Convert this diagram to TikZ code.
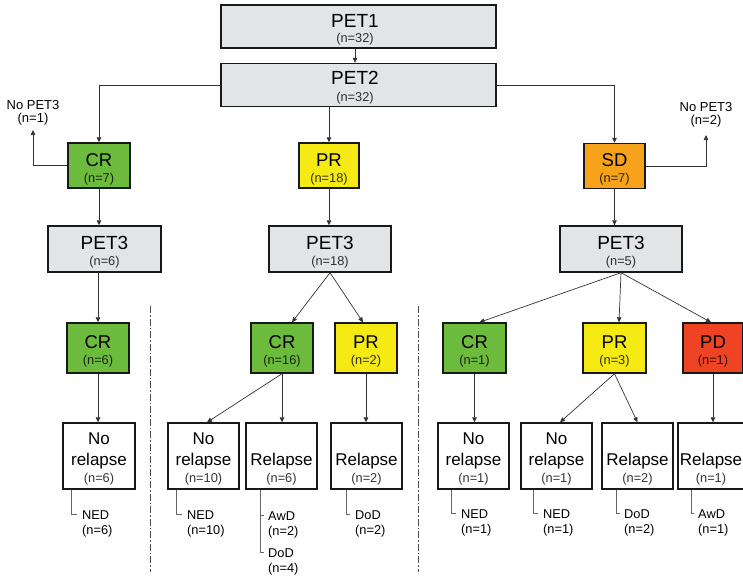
\documentclass[tikz,border=0pt]{standalone}
\usepackage{fontspec}
\setmainfont{Liberation Sans}
\usetikzlibrary{arrows.meta,calc}
\definecolor{boxgray}{HTML}{E3E4E5}
\definecolor{crgreen}{HTML}{6CBB3C}
\definecolor{pryellow}{HTML}{F5EA14}
\definecolor{sdorange}{HTML}{F7A21B}
\definecolor{pdred}{HTML}{EE4423}
\definecolor{linec}{HTML}{333333}
\begin{document}
\begin{tikzpicture}[x=1pt,y=-1pt,
  box/.style={draw=black!90, line width=1.4pt, inner sep=0pt},
  petbox/.style={box, fill=boxgray, minimum width=275pt, minimum height=43pt},
  pettri/.style={box, fill=boxgray, minimum width=#1, minimum height=46pt},
  colbox/.style={box, fill=#1},
  outbox/.style={box, fill=white, minimum height=66pt},
  arr/.style={draw=linec, line width=0.7pt, -{Triangle[length=5pt,width=4.5pt]}},
  sub/.style={draw=black!60, line width=0.7pt},
  dd/.style={draw=black!70, line width=0.8pt, dash pattern=on 7pt off 2pt on 1.5pt off 2pt},
  tbig/.style={anchor=base, inner sep=0pt, font=\fontsize{19}{19}\selectfont},
  tcr/.style={anchor=base, inner sep=0pt, font=\fontsize{18.5}{18.5}\selectfont},
  tnr/.style={anchor=base, inner sep=0pt, font=\fontsize{17}{17}\selectfont},
  tn/.style={anchor=base, inner sep=0pt, font=\fontsize{12.8}{12.8}\selectfont, text=black, text opacity=0.8},
  tno/.style={anchor=base, inner sep=0pt, font=\fontsize{13}{13}\selectfont},
  lab/.style={anchor=base west, inner sep=0pt, font=\fontsize{12.8}{12.8}\selectfont},
]
\useasboundingbox (0,0) rectangle (743,576);

% ---------- top ----------
\node[petbox] (pet1) at (358.5,26.5) {};
\node[tbig] (pet1a) at ($(pet1.north)+(-3.5,23)$) {PET1};
\node[tn] (pet1b) at ($(pet1.north)+(-3.5,38)$) {(n=32)};
\node[petbox] (pet2) at (358.5,85) {};
\node[tbig] (pet2a) at ($(pet2.north)+(-3.5,22)$) {PET2};
\node[tn] (pet2b) at ($(pet2.north)+(-3.5,39)$) {(n=32)};
\draw[arr] (pet1.south -| pet1a) -- (pet1a |- pet2.north);

% ---------- row 1 ----------
\node[colbox=crgreen, minimum width=62pt, minimum height=45pt] (cr1) at (99,165.5) {};
\node[tcr] (cr1a) at ($(cr1.north)+(0,24)$) {CR};
\node[tn] (cr1b) at ($(cr1.north)+(0,40)$) {(n=7)};
\node[colbox=pryellow, minimum width=60pt, minimum height=45pt] (pr1) at (329,165.5) {};
\node[tcr] (pr1a) at ($(pr1.north)+(0,24)$) {PR};
\node[tn] (pr1b) at ($(pr1.north)+(0,40)$) {(n=18)};
\node[colbox=sdorange, minimum width=61pt, minimum height=45pt] (sd1) at (614.5,166) {};
\node[tcr] (sd1a) at ($(sd1.north)+(0,24)$) {SD};
\node[tn] (sd1b) at ($(sd1.north)+(0,40)$) {(n=7)};

\draw[arr] (pet2.west) -| (cr1.north);
\draw[arr] (pet2.south -| pr1.north) -- (pr1.north);
\draw[arr] (pet2.east) -| (sd1.north);

\coordinate (np1) at (33,130);
\node[tno] (np1a) at (33,109) {No PET3};
\node[tno] (np1b) at (33,122) {(n=1)};
\draw[arr] (cr1.west) -| (np1);
\coordinate (np2) at (706,135);
\node[tno] (np2a) at (706,111) {No PET3};
\node[tno] (np2b) at (706,124) {(n=2)};
\draw[arr] (sd1.east) -| (np2);

% ---------- row 2 ----------
\node[pettri=113pt] (p3a) at (104.5,249) {};
\node[tbig] (p3aa) at ($(p3a.north)+(0,24)$) {PET3};
\node[tn] (p3ab) at ($(p3a.north)+(0,40)$) {(n=6)};
\node[pettri=122pt] (p3b) at (330,249) {};
\node[tbig] (p3ba) at ($(p3b.north)+(0,24)$) {PET3};
\node[tn] (p3bb) at ($(p3b.north)+(0,40)$) {(n=18)};
\node[pettri=122pt] (p3c) at (621,249) {};
\node[tbig] (p3ca) at ($(p3c.north)+(0,24)$) {PET3};
\node[tn] (p3cb) at ($(p3c.north)+(0,40)$) {(n=5)};

\draw[arr] (cr1.south) -- (cr1.south |- p3a.north);
\draw[arr] (pr1.south) -- (pr1.south |- p3b.north);
\draw[arr] (sd1.south) -- (sd1.south |- p3c.north);

% ---------- row 3 ----------
\node[colbox=crgreen, minimum width=62pt, minimum height=50pt] (crA) at (98,348) {};
\node[tcr] (crAa) at ($(crA.north)+(0,26)$) {CR};
\node[tn] (crAb) at ($(crA.north)+(0,42)$) {(n=6)};
\node[colbox=crgreen, minimum width=62pt, minimum height=50pt] (crB) at (282,348) {};
\node[tcr] (crBa) at ($(crB.north)+(0,26)$) {CR};
\node[tn] (crBb) at ($(crB.north)+(0,42)$) {(n=16)};
\node[colbox=pryellow, minimum width=62pt, minimum height=50pt] (prB) at (366,348) {};
\node[tcr] (prBa) at ($(prB.north)+(0,26)$) {PR};
\node[tn] (prBb) at ($(prB.north)+(0,42)$) {(n=2)};
\node[colbox=crgreen, minimum width=63pt, minimum height=50pt] (crC) at (474.5,348) {};
\node[tcr] (crCa) at ($(crC.north)+(0,26)$) {CR};
\node[tn] (crCb) at ($(crC.north)+(0,42)$) {(n=1)};
\node[colbox=pryellow, minimum width=63pt, minimum height=50pt] (prC) at (614.5,348) {};
\node[tcr] (prCa) at ($(prC.north)+(0,26)$) {PR};
\node[tn] (prCb) at ($(prC.north)+(0,42)$) {(n=3)};
\node[colbox=pdred, minimum width=60pt, minimum height=50pt] (pdC) at (713,348) {};
\node[tcr] (pdCa) at ($(pdC.north)+(0,26)$) {PD};
\node[tn] (pdCb) at ($(pdC.north)+(0,42)$) {(n=1)};

\draw[arr] (p3a.south -| crA.north) -- (crA.north);
\draw[arr] (p3b.south) -- ($(crB.north)+(10,0)$);
\draw[arr] (p3b.south) -- ($(prB.north)+(-3,0)$);
\draw[arr] (p3c.south) -- ($(crC.north)+(5,0)$);
\draw[arr] (p3c.south) -- ($(prC.north)+(4.5,0)$);
\draw[arr] (p3c.south) -- ($(pdC.north)+(-2,0)$);

% ---------- row 4 ----------
\node[outbox, minimum width=72pt] (nrA) at (99,456) {};
\node[tnr] (nrAa) at ($(nrA.north)+(0,22)$) {No};
\node[tnr] (nrAb) at ($(nrA.north)+(0,43)$) {relapse};
\node[tn] (nrAc) at ($(nrA.north)+(0,60)$) {(n=6)};
\node[outbox, minimum width=71pt] (nrB) at (203.5,456) {};
\node[tnr] (nrBa) at ($(nrB.north)+(0,22)$) {No};
\node[tnr] (nrBb) at ($(nrB.north)+(0,43)$) {relapse};
\node[tn] (nrBc) at ($(nrB.north)+(0,60)$) {(n=10)};
\node[outbox, minimum width=71pt] (rlB) at (281.5,456) {};
\node[tnr] (rlBb) at ($(rlB.north)+(0,43)$) {Relapse};
\node[tn] (rlBc) at ($(rlB.north)+(0,60)$) {(n=6)};
\node[outbox, minimum width=71pt] (rlB2) at (366.5,456) {};
\node[tnr] (rlB2b) at ($(rlB2.north)+(0,43)$) {Relapse};
\node[tn] (rlB2c) at ($(rlB2.north)+(0,60)$) {(n=2)};
\node[outbox, minimum width=71pt] (nrC) at (473.5,456) {};
\node[tnr] (nrCa) at ($(nrC.north)+(0,22)$) {No};
\node[tnr] (nrCb) at ($(nrC.north)+(0,43)$) {relapse};
\node[tn] (nrCc) at ($(nrC.north)+(0,60)$) {(n=1)};
\node[outbox, minimum width=71pt] (nrC2) at (556.5,456) {};
\node[tnr] (nrC2a) at ($(nrC2.north)+(0,22)$) {No};
\node[tnr] (nrC2b) at ($(nrC2.north)+(0,43)$) {relapse};
\node[tn] (nrC2c) at ($(nrC2.north)+(0,60)$) {(n=1)};
\node[outbox, minimum width=71pt] (rlC) at (637.5,456) {};
\node[tnr] (rlCb) at ($(rlC.north)+(0,43)$) {Relapse};
\node[tn] (rlCc) at ($(rlC.north)+(0,60)$) {(n=2)};
\node[outbox, minimum width=66pt] (rlC2) at (711,456) {};
\node[tnr] (rlC2b) at ($(rlC2.north)+(0,43)$) {Relapse};
\node[tn] (rlC2c) at ($(rlC2.north)+(0,60)$) {(n=1)};

\draw[arr] (crA.south) -- (crA.south |- nrA.north);
\draw[arr] (crB.south) -- ($(nrB.north)+(3.5,0)$);
\draw[arr] (crB.south) -- (crB.south |- rlB.north);
\draw[arr] (prB.south) -- (prB.south |- rlB2.north);
\draw[arr] (crC.south) -- (crC.south |- nrC.north);
\draw[arr] (prC.south) -- ($(nrC2.north)+(3.5,0)$);
\draw[arr] (prC.south) -- ($(rlC.north)+(0,0)$);
\draw[arr] (pdC.south) -- (pdC.south |- rlC2.north);

% ---------- outcome labels ----------
\node[lab] (nedA) at (82,519) {NED};
\node[lab] (nedAn) at (82,534) {(n=6)};
\draw[sub] (nrA.south west) ++(9,0) |- ($(nedA.west)+(-5,0)$);

\node[lab] (nedB) at (187,519) {NED};
\node[lab] (nedBn) at (187,534) {(n=10)};
\draw[sub] (nrB.south west) ++(9,0) |- ($(nedB.west)+(-5,0)$);

\node[lab] (awdB) at (268,520) {AwD};
\node[lab] (awdBn) at (268,535) {(n=2)};
\node[lab] (dodB) at (268,557) {DoD};
\node[lab] (dodBn) at (268,572) {(n=4)};
\coordinate (rlBl) at ($(rlB.south west)+(15,0)$);
\draw[sub] (rlBl) |- ($(dodB.west)+(-4,0)$);
\draw[sub] (rlBl |- awdB.west) -- ($(awdB.west)+(-4,0)$);

\node[lab] (dodB2) at (355,519) {DoD};
\node[lab] (dodB2n) at (355,534) {(n=2)};
\draw[sub] (rlB2.south west) ++(16,0) |- ($(dodB2.west)+(-5,0)$);

\node[lab] (nedC) at (461,518) {NED};
\node[lab] (nedCn) at (461,533) {(n=1)};
\draw[sub] (nrC.south west) ++(14,0) |- ($(nedC.west)+(-5,0)$);

\node[lab] (nedC2) at (543,518) {NED};
\node[lab] (nedC2n) at (543,533) {(n=1)};
\draw[sub] (nrC2.south west) ++(13,0) |- ($(nedC2.west)+(-5,0)$);

\node[lab] (dodC) at (624,518) {DoD};
\node[lab] (dodCn) at (624,533) {(n=2)};
\draw[sub] (rlC.south west) ++(15,0) |- ($(dodC.west)+(-4,0)$);

\node[lab] (awdC) at (698,518) {AwD};
\node[lab] (awdCn) at (698,533) {(n=1)};
\draw[sub] (rlC2.south west) ++(14,0) |- ($(awdC.west)+(-4,0)$);

% ---------- separators ----------
\draw[dd] (150,306) -- (150,572);
\draw[dd] (418,306) -- (418,572);
\end{tikzpicture}
\end{document}
